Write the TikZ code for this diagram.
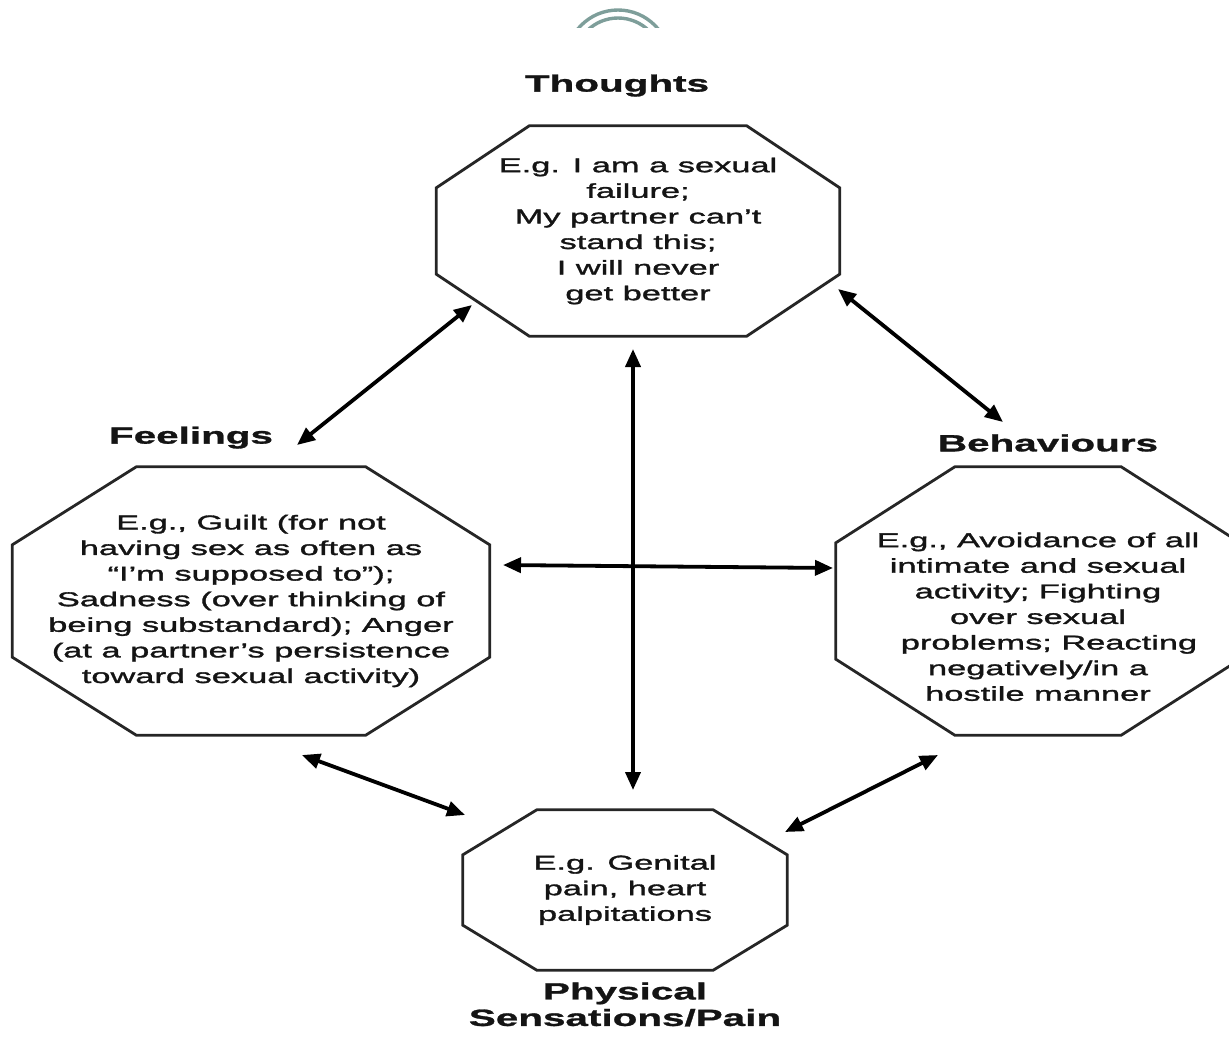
\documentclass[tikz,border=0pt]{standalone}
\usepackage{fontspec}
\newfontfamily\diagfont{Liberation Sans}[FakeStretch=1.72, FakeBold=1.6]
\newfontfamily\diagheadfont{Liberation Sans Bold}[FakeStretch=1.72, FakeBold=1.2]
\usepackage{tikz}
\usetikzlibrary{arrows.meta,positioning,calc}
\definecolor{ink}{HTML}{141414}
\definecolor{edge}{HTML}{262626}
\definecolor{sage}{HTML}{7E9E9A}
\newcommand{\bodyfont}{\diagfont\fontsize{20}{25.6}\selectfont}
\newcommand{\headfont}{\diagheadfont\fontsize{23.5}{26.5}\selectfont}
% octagon round a node: #1 node, #2 cut along x, #3 cut along y
\newcommand{\octagon}[3]{%
  \draw[octoline] ($(#1.north west)+(#2,0)$) -- ($(#1.north east)+(-#2,0)$)
    -- ($(#1.north east)+(0,#3)$) -- ($(#1.south east)+(0,-#3)$)
    -- ($(#1.south east)+(-#2,0)$) -- ($(#1.south west)+(#2,0)$)
    -- ($(#1.south west)+(0,-#3)$) -- ($(#1.north west)+(0,#3)$) -- cycle;}
\tikzset{
  octo/.style={rectangle, align=center, inner sep=0pt, font=\bodyfont, text=ink},
  octoline/.style={draw=edge, line width=2.8pt, line join=miter},
  head/.style={font=\headfont, text=ink, align=center, inner sep=0pt},
  link/.style={{Triangle[length=18pt,width=15pt]}-{Triangle[length=18pt,width=15pt]},
               line width=3.8pt, draw=black}
}
\begin{document}
\begin{tikzpicture}[x=1pt, y=-1pt]
 \useasboundingbox (0,0) rectangle (1229,1037);
 % ornament at the top
 \begin{scope}
  \clip (560,0) rectangle (680,27);
  \draw[sage, line width=3.4pt] (618,62) circle[radius=52];
  \draw[sage, line width=3.4pt] (618,62) circle[radius=44];
 \end{scope}

 \node[octo, minimum width=403pt, minimum height=210pt] (thoughts) at (638,231)
  {E.g. I am a sexual\\failure;\\My partner can’t\\stand this;\\I will never\\get better};
 \node[octo, minimum width=477pt, minimum height=268pt] (feelings) at (251,601)
  {E.g., Guilt (for not\\having sex as often as\\“I’m supposed to”);\\Sadness (over thinking of\\being substandard); Anger\\(at a partner’s persistence\\toward sexual activity)};
 \node[octo, minimum width=404pt, minimum height=268pt] (behav) at (1038,601)
  {\rule{0pt}{46pt}E.g., Avoidance of all\\intimate and sexual\\activity; Fighting\\over sexual\hspace{16pt}\\\hspace{22pt}problems; Reacting\\negatively/in a\\hostile manner};
 \node[octo, minimum width=324pt, minimum height=160pt] (physical) at (625,890)
  {E.g. Genital\\pain, heart\\palpitations};

 \octagon{thoughts}{93}{62}
 \octagon{feelings}{124}{78}
 \octagon{behav}{119}{76}
 \octagon{physical}{74}{45}

 \node[head, above=29pt of thoughts, xshift=-21pt] (thoughtsLbl) {Thoughts};
 \node[head, above=18pt of feelings, xshift=-60pt] (feelingsLbl) {Feelings};
 \node[head, above=15pt of behav, xshift=10pt] (behavLbl) {Behaviours};
 \node[head, below=12pt of physical] (physicalLbl) {Physical\\Sensations/Pain};

 % arrow ends
 \coordinate (tf1) at (472,305); \coordinate (tf2) at (297,445);
 \coordinate (tb1) at (838,289); \coordinate (tb2) at (1003,422);
 \coordinate (tp1) at (633,349); \coordinate (tp2) at (633,790);
 \coordinate (fb1) at (503,565); \coordinate (fb2) at (833,568);
 \coordinate (fp1) at (302,755); \coordinate (fp2) at (465,815);
 \coordinate (bp1) at (938,755); \coordinate (bp2) at (785,832);

 \draw[link] (tf1) -- (tf2);
 \draw[link] (tb1) -- (tb2);
 \draw[link] (tp1) -- (tp2);
 \draw[link] (fb1) -- (fb2);
 \draw[link] (fp1) -- (fp2);
 \draw[link] (bp1) -- (bp2);
\end{tikzpicture}
\end{document}
